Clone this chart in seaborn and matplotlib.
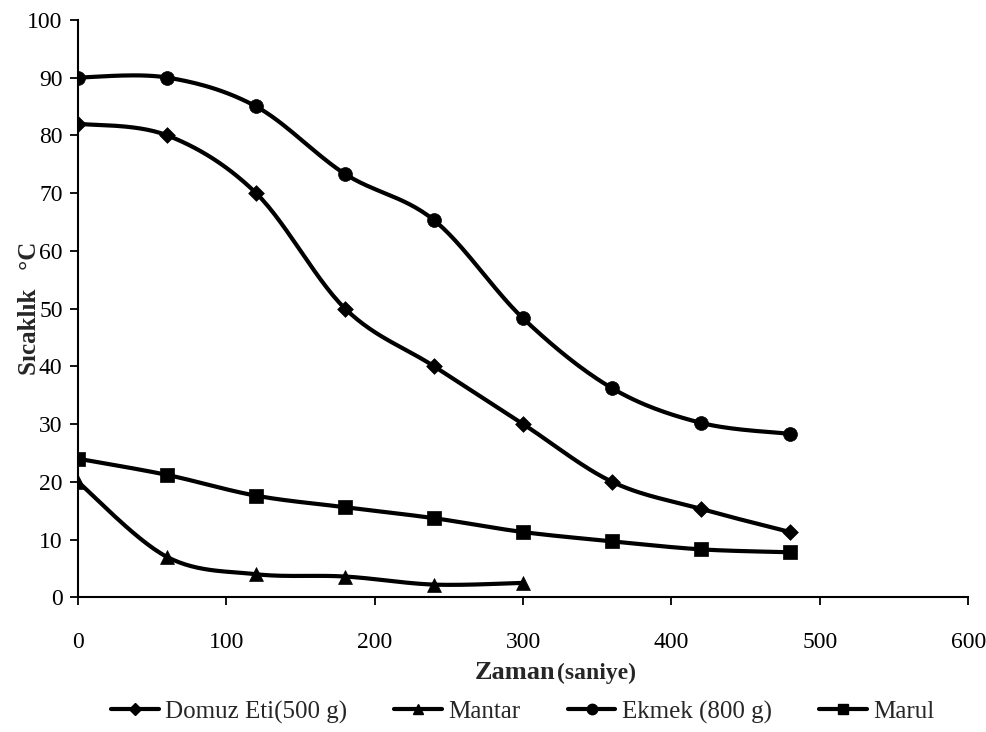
import numpy as np
import pandas as pd
import matplotlib
matplotlib.use("Agg")
import matplotlib.pyplot as plt
from matplotlib.lines import Line2D
import seaborn as sns

# Measurement times (seconds)
time_s = [0, 60, 120, 180, 240, 300, 360, 420, 480]
time_mantar = [0, 60, 120, 180, 240, 300]

# Temperatures (°C)
domuz = [82, 80, 70, 50, 40, 30, 20, 15.3, 11.3]
mantar = [20, 7, 4, 3.6, 2.2, 2.5]
ekmek = [90, 90, 85, 73.3, 65.3, 48.3, 36.2, 30.2, 28.3]
marul = [24, 21.2, 17.6, 15.6, 13.7, 11.3, 9.7, 8.3, 7.8]

labels = ["Domuz Eti(500 g)", "Mantar", "Ekmek (800 g)", "Marul"]
markers = ["D", "^", "o", "s"]
marker_sizes = [8, 10, 10, 10]
x_ticks = [0, 100, 200, 300, 400, 500, 600]
y_ticks = list(range(0, 101, 10))


def smooth(xs, ys, n=30):
    """Cardinal (Catmull-Rom style) Bezier smoothing through every point."""
    p = np.column_stack([xs, ys]).astype(float)
    pp = np.vstack([p[0], p, p[-1]])
    t = np.linspace(0, 1, n)[:, None]
    out = []
    for i in range(len(p) - 1):
        p0, p1, p2, p3 = pp[i], pp[i + 1], pp[i + 2], pp[i + 3]
        b1 = p1 + (p2 - p0) / 6.0
        b2 = p2 - (p3 - p1) / 6.0
        seg = ((1 - t) ** 3) * p1 + 3 * ((1 - t) ** 2) * t * b1 + 3 * (1 - t) * t ** 2 * b2 + t ** 3 * p2
        out.append(seg if i == 0 else seg[1:])
    c = np.vstack(out)
    return c[:, 0], c[:, 1]


sns.set_theme(style="ticks")
plt.rcParams["font.family"] = ["Liberation Serif", "DejaVu Serif"]

fig = plt.figure(figsize=(9.86, 7.32), dpi=100)
ax = fig.add_axes([0.079, 0.184, 0.903, 0.789])

series = [(time_s, domuz), (time_mantar, mantar), (time_s, ekmek), (time_s, marul)]
handles = []
for (xs, ys), lab, mk, ms in zip(series, labels, markers, marker_sizes):
    sx, sy = smooth(xs, ys)
    curve = pd.DataFrame({"Zaman": sx, "Sicaklik": sy})
    sns.lineplot(data=curve, x="Zaman", y="Sicaklik", ax=ax, color="black",
                 linewidth=3, sort=False, estimator=None)
    pts = pd.DataFrame({"Zaman": xs, "Sicaklik": ys})
    sns.scatterplot(data=pts, x="Zaman", y="Sicaklik", ax=ax, color="black",
                    marker=mk, s=ms ** 2, edgecolor="black", linewidth=0.5, zorder=5)
    handles.append(Line2D([], [], color="black", linewidth=3, marker=mk,
                          markersize=ms * 0.75, label=lab))

ax.set_xlim(0, 600)
ax.set_ylim(0, 100)
ax.set_xticks(x_ticks)
ax.set_yticks(y_ticks)
ax.set_xlabel("")
ax.set_ylabel("Sıcaklık   °C", fontsize=18, fontweight="bold")
ax.yaxis.set_label_coords(-0.041, 0.5)
sns.despine(ax=ax)
for s in ["left", "bottom"]:
    ax.spines[s].set_linewidth(1.5)
    ax.spines[s].set_color("black")
ax.tick_params(axis="both", colors="black", labelsize=17, width=1.3, length=6)
ax.tick_params(axis="x", pad=19)
ax.tick_params(axis="y", pad=5)

fig.text(555 / 986, 1 - 679 / 732, "Zaman", ha="right", va="baseline",
         fontsize=19, fontweight="bold")
fig.text(557 / 986, 1 - 679 / 732, "(saniye)", ha="left", va="baseline",
         fontsize=17, fontweight="bold")

fig.legend(handles=handles, loc="center", bbox_to_anchor=(0.53, 1 - 712 / 732),
           ncol=4, frameon=False, fontsize=18, handlelength=1.9,
           handletextpad=0.25, columnspacing=1.9, borderaxespad=0)

fig.savefig("out.png", dpi=100, facecolor="white")
